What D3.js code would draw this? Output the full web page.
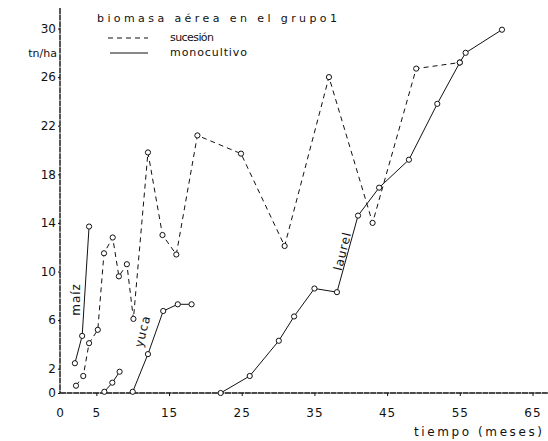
<!DOCTYPE html>
<html>
<head>
<meta charset="utf-8">
<script src="https://cdn.jsdelivr.net/npm/d3@7"></script>
<style>
  html, body { margin: 0; padding: 0; background: #fff; }
  svg { display: block; }
  text { font-family: "DejaVu Sans", sans-serif; fill: #111; }
</style>
</head>
<body>
<svg id="chart" width="548" height="441"></svg>
<script>
const WIDTH = 548;
const HEIGHT = 441;

// months / tn per ha
const sucesionMonths = [2.2, 3.2, 4.0, 5.2, 6.05, 7.25, 8.1, 9.2, 10.1, 12.1, 14.1, 16.0, 18.9, 24.9, 30.9, 37.0, 43.0, 49.0, 55.0];
const sucesionValues = [0.6, 1.4, 4.1, 5.2, 11.5, 12.8, 9.6, 10.6, 6.1, 19.8, 13.0, 11.4, 21.2, 19.7, 12.1, 26.0, 14.0, 26.7, 27.2];

const maizMonths = [2.05, 3.05, 4.0];
const maizValues = [2.45, 4.7, 13.7];

const frijolMonths = [6.1, 7.2, 8.2];
const frijolValues = [0.1, 0.85, 1.75];

const yucaMonths = [10.0, 12.1, 14.2, 16.2, 18.1];
const yucaValues = [0.1, 3.2, 6.75, 7.3, 7.3];

const laurelMonths = [22.1, 26.1, 30.1, 32.2, 35.0, 38.1, 41.0, 43.9, 48.0, 51.9, 55.0, 55.8, 60.8];
const laurelValues = [0.0, 1.4, 4.3, 6.3, 8.6, 8.3, 14.6, 16.9, 19.2, 23.8, 27.2, 28.0, 29.9];

const xTicks = [0, 5, 15, 25, 35, 45, 55, 65];
const yTicks = [0, 2, 6, 10, 14, 18, 22, 26, 30];

const toPoints = (months, values) => months.map((m, i) => ({ m, v: values[i] }));

const svg = d3.select("#chart");
const x = d3.scaleLinear().domain([0, 65]).range([60, 532.5]);
const y = d3.scaleLinear().domain([0, 30]).range([393, 28.5]);

// axes
const xAxis = svg.append("g").attr("transform", `translate(0,${y(0)})`)
  .call(d3.axisBottom(x).tickValues(xTicks).tickSize(3).tickPadding(12).tickFormat(d3.format("d")));
xAxis.select(".domain").remove();
xAxis.selectAll(".tick line").attr("stroke", (d) => (d === 0 ? "none" : "#111"));
xAxis.selectAll(".tick text").attr("font-size", 12).attr("font-family", "DejaVu Sans").attr("fill", "#111").attr("letter-spacing", 1);

svg.append("line")
  .attr("x1", x(0)).attr("x2", WIDTH).attr("y1", y(0)).attr("y2", y(0))
  .attr("stroke", "#111").attr("stroke-width", 1.4).attr("stroke-dasharray", "6,0.6");

const yAxis = svg.append("g").attr("transform", `translate(${x(0)},0)`)
  .call(d3.axisLeft(y).tickValues(yTicks).tickSize(2).tickPadding(2).tickFormat(d3.format("d")));
yAxis.select(".domain").remove();
yAxis.selectAll(".tick line").attr("stroke", "#111");
yAxis.selectAll(".tick text").attr("font-size", 12).attr("font-family", "DejaVu Sans").attr("fill", "#111");

svg.append("line")
  .attr("x1", x(0)).attr("x2", x(0)).attr("y1", 8).attr("y2", y(0))
  .attr("stroke", "#111").attr("stroke-width", 1.4).attr("stroke-dasharray", "6,0.6");

svg.append("text").attr("x", x(0) - 3).attr("y", y(28) + 4).attr("text-anchor", "end")
  .attr("font-size", 11).text("tn/ha");

svg.append("text").attr("x", 542).attr("y", 436).attr("text-anchor", "end")
  .attr("font-size", 12).attr("textLength", 128).attr("lengthAdjust", "spacing")
  .text("tiempo (meses)");

// series
const line = d3.line().x((d) => x(d.m)).y((d) => y(d.v));

const drawSeries = (points, dashed) => {
  svg.append("path").datum(points)
    .attr("d", line)
    .attr("fill", "none")
    .attr("stroke", "#111")
    .attr("stroke-width", 1)
    .attr("stroke-dasharray", dashed ? "5,4" : null);
  svg.append("g").selectAll("circle").data(points).join("circle")
    .attr("cx", (d) => x(d.m)).attr("cy", (d) => y(d.v)).attr("r", 2.6)
    .attr("fill", "#fff").attr("stroke", "#111").attr("stroke-width", 1);
};

drawSeries(toPoints(sucesionMonths, sucesionValues), true);
drawSeries(toPoints(maizMonths, maizValues), false);
drawSeries(toPoints(frijolMonths, frijolValues), false);
drawSeries(toPoints(yucaMonths, yucaValues), false);
drawSeries(toPoints(laurelMonths, laurelValues), false);

// crop labels along the lines
const cropLabel = (text, m, v, angle) => {
  svg.append("text")
    .attr("transform", `translate(${x(m)},${y(v)}) rotate(${angle})`)
    .attr("text-anchor", "middle").attr("font-size", 12).attr("letter-spacing", 1)
    .text(text);
};
cropLabel("maíz", 2.7, 7.7, -90);
cropLabel("yuca", 11.9, 5.0, -76);
cropLabel("laurel", 39.4, 11.6, -76);

// legend
svg.append("text").attr("x", 97).attr("y", 22).attr("font-size", 11)
  .attr("textLength", 240).attr("lengthAdjust", "spacing")
  .text("biomasa aérea en el grupo1");
svg.append("line").attr("x1", 108).attr("x2", 148).attr("y1", 38).attr("y2", 38)
  .attr("stroke", "#111").attr("stroke-dasharray", "5,4");
svg.append("line").attr("x1", 110).attr("x2", 148).attr("y1", 53).attr("y2", 53)
  .attr("stroke", "#111");
svg.append("text").attr("x", 170).attr("y", 41).attr("font-size", 11)
  .attr("textLength", 44).attr("lengthAdjust", "spacing").text("sucesión");
svg.append("text").attr("x", 170).attr("y", 56).attr("font-size", 11)
  .attr("textLength", 77).attr("lengthAdjust", "spacing").text("monocultivo");
</script>
</body>
</html>
